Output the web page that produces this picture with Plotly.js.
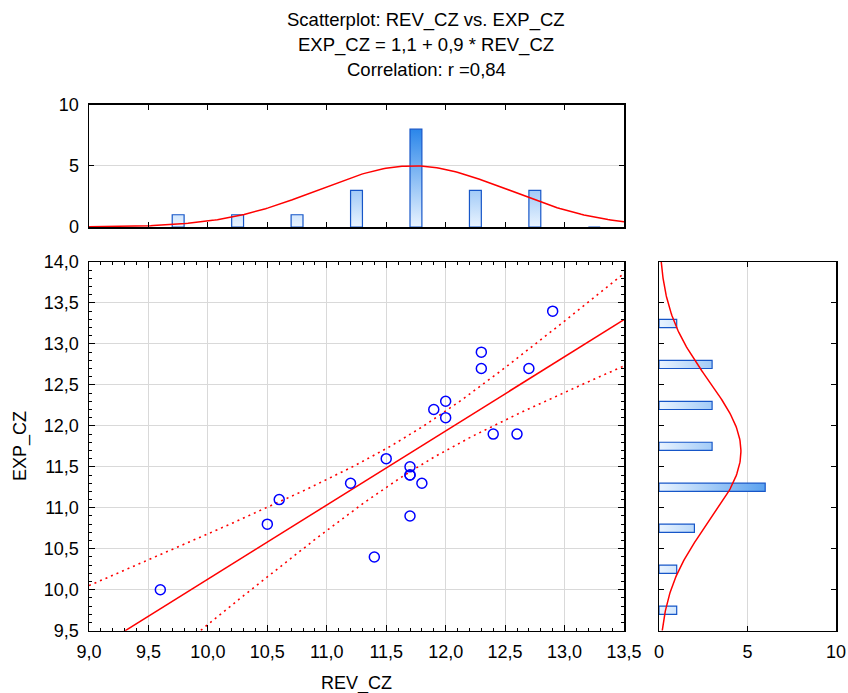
<!DOCTYPE html>
<html><head><meta charset="utf-8">
<script src="https://cdn.plot.ly/plotly-3.0.1.min.js"></script>
<style>html,body{margin:0;padding:0;background:#fff}#chart{width:848px;height:693px}</style>
</head><body><div id="chart"></div>
<script>
// ---- data ----
const revCZ = [9.6,10.5,10.6,11.2,11.4,11.5,11.7,11.7,11.7,11.7,11.8,11.9,12.0,12.0,12.3,12.3,12.4,12.6,12.7,12.9];
const expCZ = [10.0,10.8,11.1,11.3,10.4,11.6,11.5,11.4,11.4,10.9,11.3,12.2,12.3,12.1,12.9,12.7,11.9,11.9,12.7,13.4];
const revBinCenters = [9.75,10.25,10.75,11.25,11.75,12.25,12.75,13.25];
const revCounts     = [1,1,1,3,8,3,3,0];
const expBinCenters = [9.75,10.25,10.75,11.25,11.75,12.25,12.75,13.25];
const expCounts     = [1,1,2,6,3,3,3,1];
const binWidth = 0.5;
const titleLines = ['Scatterplot: REV_CZ vs. EXP_CZ','EXP_CZ = 1,1 + 0,9 * REV_CZ','Correlation: r =0,84'];
const xLabel = 'REV_CZ', yLabel = 'EXP_CZ';
const tCrit = 2.1009; // t(0.975, df=18)

// ---- statistics derived from the data ----
const n = revCZ.length;
const mean = a => a.reduce((s,v)=>s+v,0)/a.length;
const mx = mean(revCZ), my = mean(expCZ);
let sxx=0, syy=0, sxy=0;
for(let i=0;i<n;i++){ sxx+=(revCZ[i]-mx)**2; syy+=(expCZ[i]-my)**2; sxy+=(revCZ[i]-mx)*(expCZ[i]-my); }
const slope = sxy/sxx, icpt = my - slope*mx;
let sse=0; for(let i=0;i<n;i++){ sse += (expCZ[i]-icpt-slope*revCZ[i])**2; }
const sRes = Math.sqrt(sse/(n-2));
const sdx = Math.sqrt(sxx/(n-1)), sdy = Math.sqrt(syy/(n-1));
const pdf = (v,m,s) => Math.exp(-0.5*((v-m)/s)**2)/(s*Math.sqrt(2*Math.PI));

const xr = [9.0, 13.5], yr = [9.5, 14.0];
const lineX=[], lineY=[], upY=[], loY=[];
for(let k=0;k<=100;k++){
  const x = xr[0] + (xr[1]-xr[0])*k/100;
  const yh = icpt + slope*x;
  const hw = tCrit*sRes*Math.sqrt(1/n + (x-mx)**2/sxx);
  lineX.push(x); lineY.push(yh); upY.push(yh+hw); loY.push(yh-hw);
}
const nxX=[], nxY=[];
for(let k=0;k<=200;k++){ const x = xr[0]+(xr[1]-xr[0])*k/200; nxX.push(x); nxY.push(n*binWidth*pdf(x,mx,sdx)); }
const nyY=[], nyX=[];
for(let k=0;k<=200;k++){ const y = yr[0]+(yr[1]-yr[0])*k/200; nyY.push(y); nyX.push(n*binWidth*pdf(y,my,sdy)); }

// bar polygons (thin bars at bin centers)
const barW = 0.1;
function barPolys(centers, counts){
  const a=[], b=[];
  centers.forEach((c,i)=>{
    const l=c-barW/2, r=c+barW/2, h=counts[i];
    a.push(l,l,r,r,l,null); b.push(0,h,h,0,0,null);
  });
  return [a,b];
}
const [tbx, tby] = barPolys(revBinCenters, revCounts);
const [rby, rbx] = barPolys(expBinCenters, expCounts);
const barScale = [[0,'#eaf4ff'],[1,'#2a86ea']];
const red = '#ff0000', barLine = '#1656c8';

const traces = [
  {x:tbx, y:tby, xaxis:'x2', yaxis:'y2', type:'scatter', mode:'lines', fill:'toself',
   fillgradient:{type:'vertical', colorscale:barScale, start:0, stop:8},
   line:{color:barLine, width:1.2}, connectgaps:false, hoverinfo:'skip'},
  {x:nxX, y:nxY, xaxis:'x2', yaxis:'y2', type:'scatter', mode:'lines', line:{color:red, width:1.5}},
  {x:rbx, y:rby, xaxis:'x3', yaxis:'y3', type:'scatter', mode:'lines', fill:'toself',
   fillgradient:{type:'horizontal', colorscale:barScale, start:0, stop:8},
   line:{color:barLine, width:1.2}, connectgaps:false, hoverinfo:'skip'},
  {x:nyX, y:nyY, xaxis:'x3', yaxis:'y3', type:'scatter', mode:'lines', line:{color:red, width:1.5}},
  {x:lineX, y:upY, type:'scatter', mode:'lines', line:{color:red, width:1.6, dash:'2px,4px'}},
  {x:lineX, y:loY, type:'scatter', mode:'lines', line:{color:red, width:1.6, dash:'2px,4px'}},
  {x:lineX, y:lineY, type:'scatter', mode:'lines', line:{color:red, width:1.5}},
  {x:revCZ, y:expCZ, type:'scatter', mode:'markers',
   marker:{symbol:'circle-open', size:10, color:'#0000ff', line:{width:1.5, color:'#0000ff'}}}
];

const W=848, H=693;
const px = v => v/W, py = v => 1 - v/H;
const axBase = {showline:true, linecolor:'#000', linewidth:1.5, ticks:'inside', tickcolor:'#000',
  tickwidth:1, mirror:'allticks', zeroline:false, fixedrange:true};
const xStand = 4, yStand = 5;
const grid = '#d9d9d9';
const layout = {
  width:W, height:H, margin:{l:0,r:0,t:0,b:0}, showlegend:false,
  paper_bgcolor:'#fff', plot_bgcolor:'rgba(0,0,0,0)', separators:', ',
  font:{family:'"Liberation Sans", Arial, sans-serif', size:18, color:'#000'},
  xaxis:Object.assign({}, axBase, {domain:[px(89),px(624)], range:xr, dtick:0.5, tick0:9, tickformat:'.1f',
    ticklen:6, showgrid:true, gridcolor:grid, anchor:'y', ticklabelstandoff:xStand,
    minor:{ticks:'inside', dtick:0.1, ticklen:3, tickcolor:'#000', tickwidth:1, showgrid:false}}),
  yaxis:Object.assign({}, axBase, {domain:[py(630.7),py(262)], range:yr, dtick:0.5, tick0:9.5, tickformat:'.1f',
    ticklen:6, showgrid:true, gridcolor:grid, anchor:'x', ticklabelstandoff:yStand,
    minor:{ticks:'inside', dtick:0.1, ticklen:3, tickcolor:'#000', tickwidth:1, showgrid:false}}),
  xaxis2:Object.assign({}, axBase, {domain:[px(89),px(624)], range:xr, dtick:0.5, tick0:9, ticklen:5,
    showticklabels:false, showgrid:false, anchor:'y2'}),
  yaxis2:Object.assign({}, axBase, {domain:[py(227),py(104.7)], range:[0,10], dtick:5, ticklen:5,
    showgrid:true, gridcolor:grid, anchor:'x2', ticklabelstandoff:yStand}),
  xaxis3:Object.assign({}, axBase, {domain:[px(659),px(836)], range:[0,10], dtick:5, ticklen:5,
    showgrid:true, gridcolor:grid, anchor:'y3', ticklabelstandoff:xStand}),
  yaxis3:Object.assign({}, axBase, {domain:[py(630.7),py(262)], range:yr, dtick:0.5, ticklen:5,
    showticklabels:false, showgrid:false, anchor:'x3'}),
  annotations:[
    {text:titleLines[0], xref:'paper', yref:'paper', x:px(426), y:py(20), showarrow:false, xanchor:'center', yanchor:'middle', font:{size:18.5}},
    {text:titleLines[1], xref:'paper', yref:'paper', x:px(426), y:py(45), showarrow:false, xanchor:'center', yanchor:'middle', font:{size:18.5}},
    {text:titleLines[2], xref:'paper', yref:'paper', x:px(426), y:py(70), showarrow:false, xanchor:'center', yanchor:'middle', font:{size:18.5}},
    {text:xLabel, xref:'paper', yref:'paper', x:px(356), y:py(683), showarrow:false, xanchor:'center', yanchor:'middle'},
    {text:yLabel, xref:'paper', yref:'paper', x:px(20), y:py(446), showarrow:false, textangle:-90, xanchor:'center', yanchor:'middle'}
  ]
};
Plotly.newPlot('chart', traces, layout, {displayModeBar:false, staticPlot:true});
</script></body></html>
